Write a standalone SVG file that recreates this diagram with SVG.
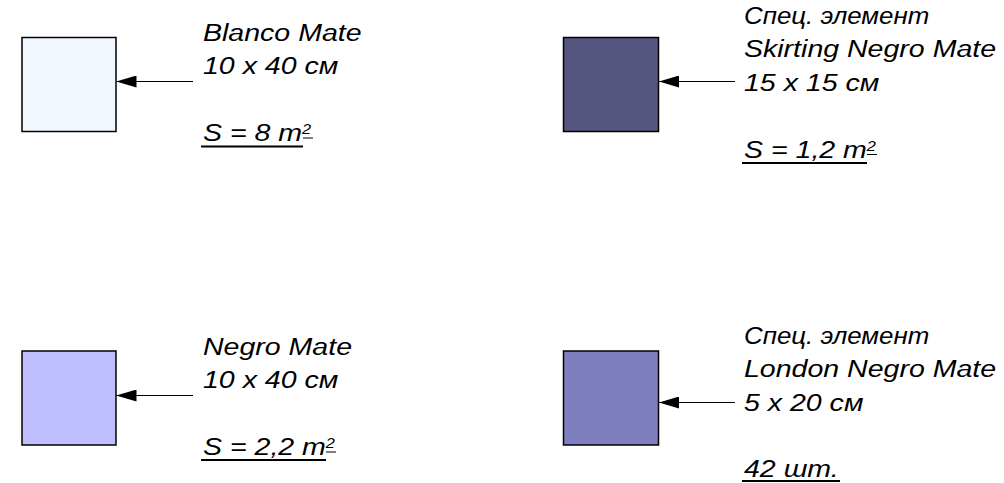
<svg xmlns="http://www.w3.org/2000/svg" width="1004" height="483" viewBox="0 0 1004 483">
  <defs>
    <style>
      .box { stroke: #000; stroke-width: 1.5; }
      .t { font-family: "Liberation Sans", Arial, sans-serif; font-style: italic; font-size: 24.5px; fill: #000; }
      .sup { font-size: 14px; }
      .ul { stroke: #000; stroke-width: 2; }
      .ul2 { stroke: #000; stroke-width: 1; }
      .conn { stroke: #000; stroke-width: 1; fill: none; marker-end: url(#ah); }
    </style>
    <marker id="ah" viewBox="0 0 20 12" refX="20" refY="6" markerWidth="20" markerHeight="12" markerUnits="userSpaceOnUse" orient="auto">
      <path d="M0,0 L20,6 L0,12 Z" fill="#000"/>
    </marker>
  </defs>
  <rect width="1004" height="483" fill="#fff"/>

  <g id="node-blanco">
    <rect class="box" x="22" y="37.5" width="94" height="94" fill="#F0F7FF"/>
    <g transform="translate(203,0) scale(1.165,1)">
      <text class="t" x="0" y="41">Blanco Mate</text>
      <text class="t" x="0" y="74.5">10 x 40 см</text>
      <text class="t" x="0" y="141.5">S = 8 m<tspan class="sup" dy="-7">2</tspan></text>
    </g>
    <line class="ul" x1="201" y1="146.5" x2="303" y2="146.5"/>
    <line class="ul2" x1="303" y1="138" x2="313" y2="138"/>
  </g>

  <g id="node-skirting">
    <rect class="box" x="563.5" y="37.5" width="95" height="94" fill="#55557F"/>
    <g transform="translate(744,0) scale(1.165,1)">
      <text class="t" x="0" y="24" textLength="159" lengthAdjust="spacingAndGlyphs">Спец. элемент</text>
      <text class="t" x="0" y="57.5">Skirting Negro Mate</text>
      <text class="t" x="0" y="91">15 x 15 см</text>
      <text class="t" x="0" y="158">S = 1,2 m<tspan class="sup" dy="-7">2</tspan></text>
    </g>
    <line class="ul" x1="742" y1="163" x2="867" y2="163"/>
    <line class="ul2" x1="867" y1="154.5" x2="877" y2="154.5"/>
  </g>

  <g id="node-negro">
    <rect class="box" x="22" y="351" width="94" height="94" fill="#BFBFFF"/>
    <g transform="translate(203,0) scale(1.165,1)">
      <text class="t" x="0" y="355">Negro Mate</text>
      <text class="t" x="0" y="388.5">10 x 40 см</text>
      <text class="t" x="0" y="455.5">S = 2,2 m<tspan class="sup" dy="-7">2</tspan></text>
    </g>
    <line class="ul" x1="201" y1="460" x2="326" y2="460"/>
    <line class="ul2" x1="326" y1="452" x2="336" y2="452"/>
  </g>

  <g id="node-london">
    <rect class="box" x="563.5" y="351" width="95" height="94" fill="#7F7FBF"/>
    <g transform="translate(744,0) scale(1.165,1)">
      <text class="t" x="0" y="344" textLength="159" lengthAdjust="spacingAndGlyphs">Спец. элемент</text>
      <text class="t" x="0" y="377.5">London Negro Mate</text>
      <text class="t" x="0" y="411">5 x 20 см</text>
      <text class="t" x="0" y="477">42 шт.</text>
    </g>
    <line class="ul" x1="742" y1="481" x2="840" y2="481"/>
  </g>

  <g id="connectors">
    <line class="conn" x1="193" y1="81.5" x2="116.5" y2="81.5"/>
    <line class="conn" x1="735" y1="81.5" x2="659" y2="81.5"/>
    <line class="conn" x1="193" y1="395.5" x2="116.5" y2="395.5"/>
    <line class="conn" x1="735" y1="402.5" x2="659" y2="402.5"/>
  </g>
</svg>
